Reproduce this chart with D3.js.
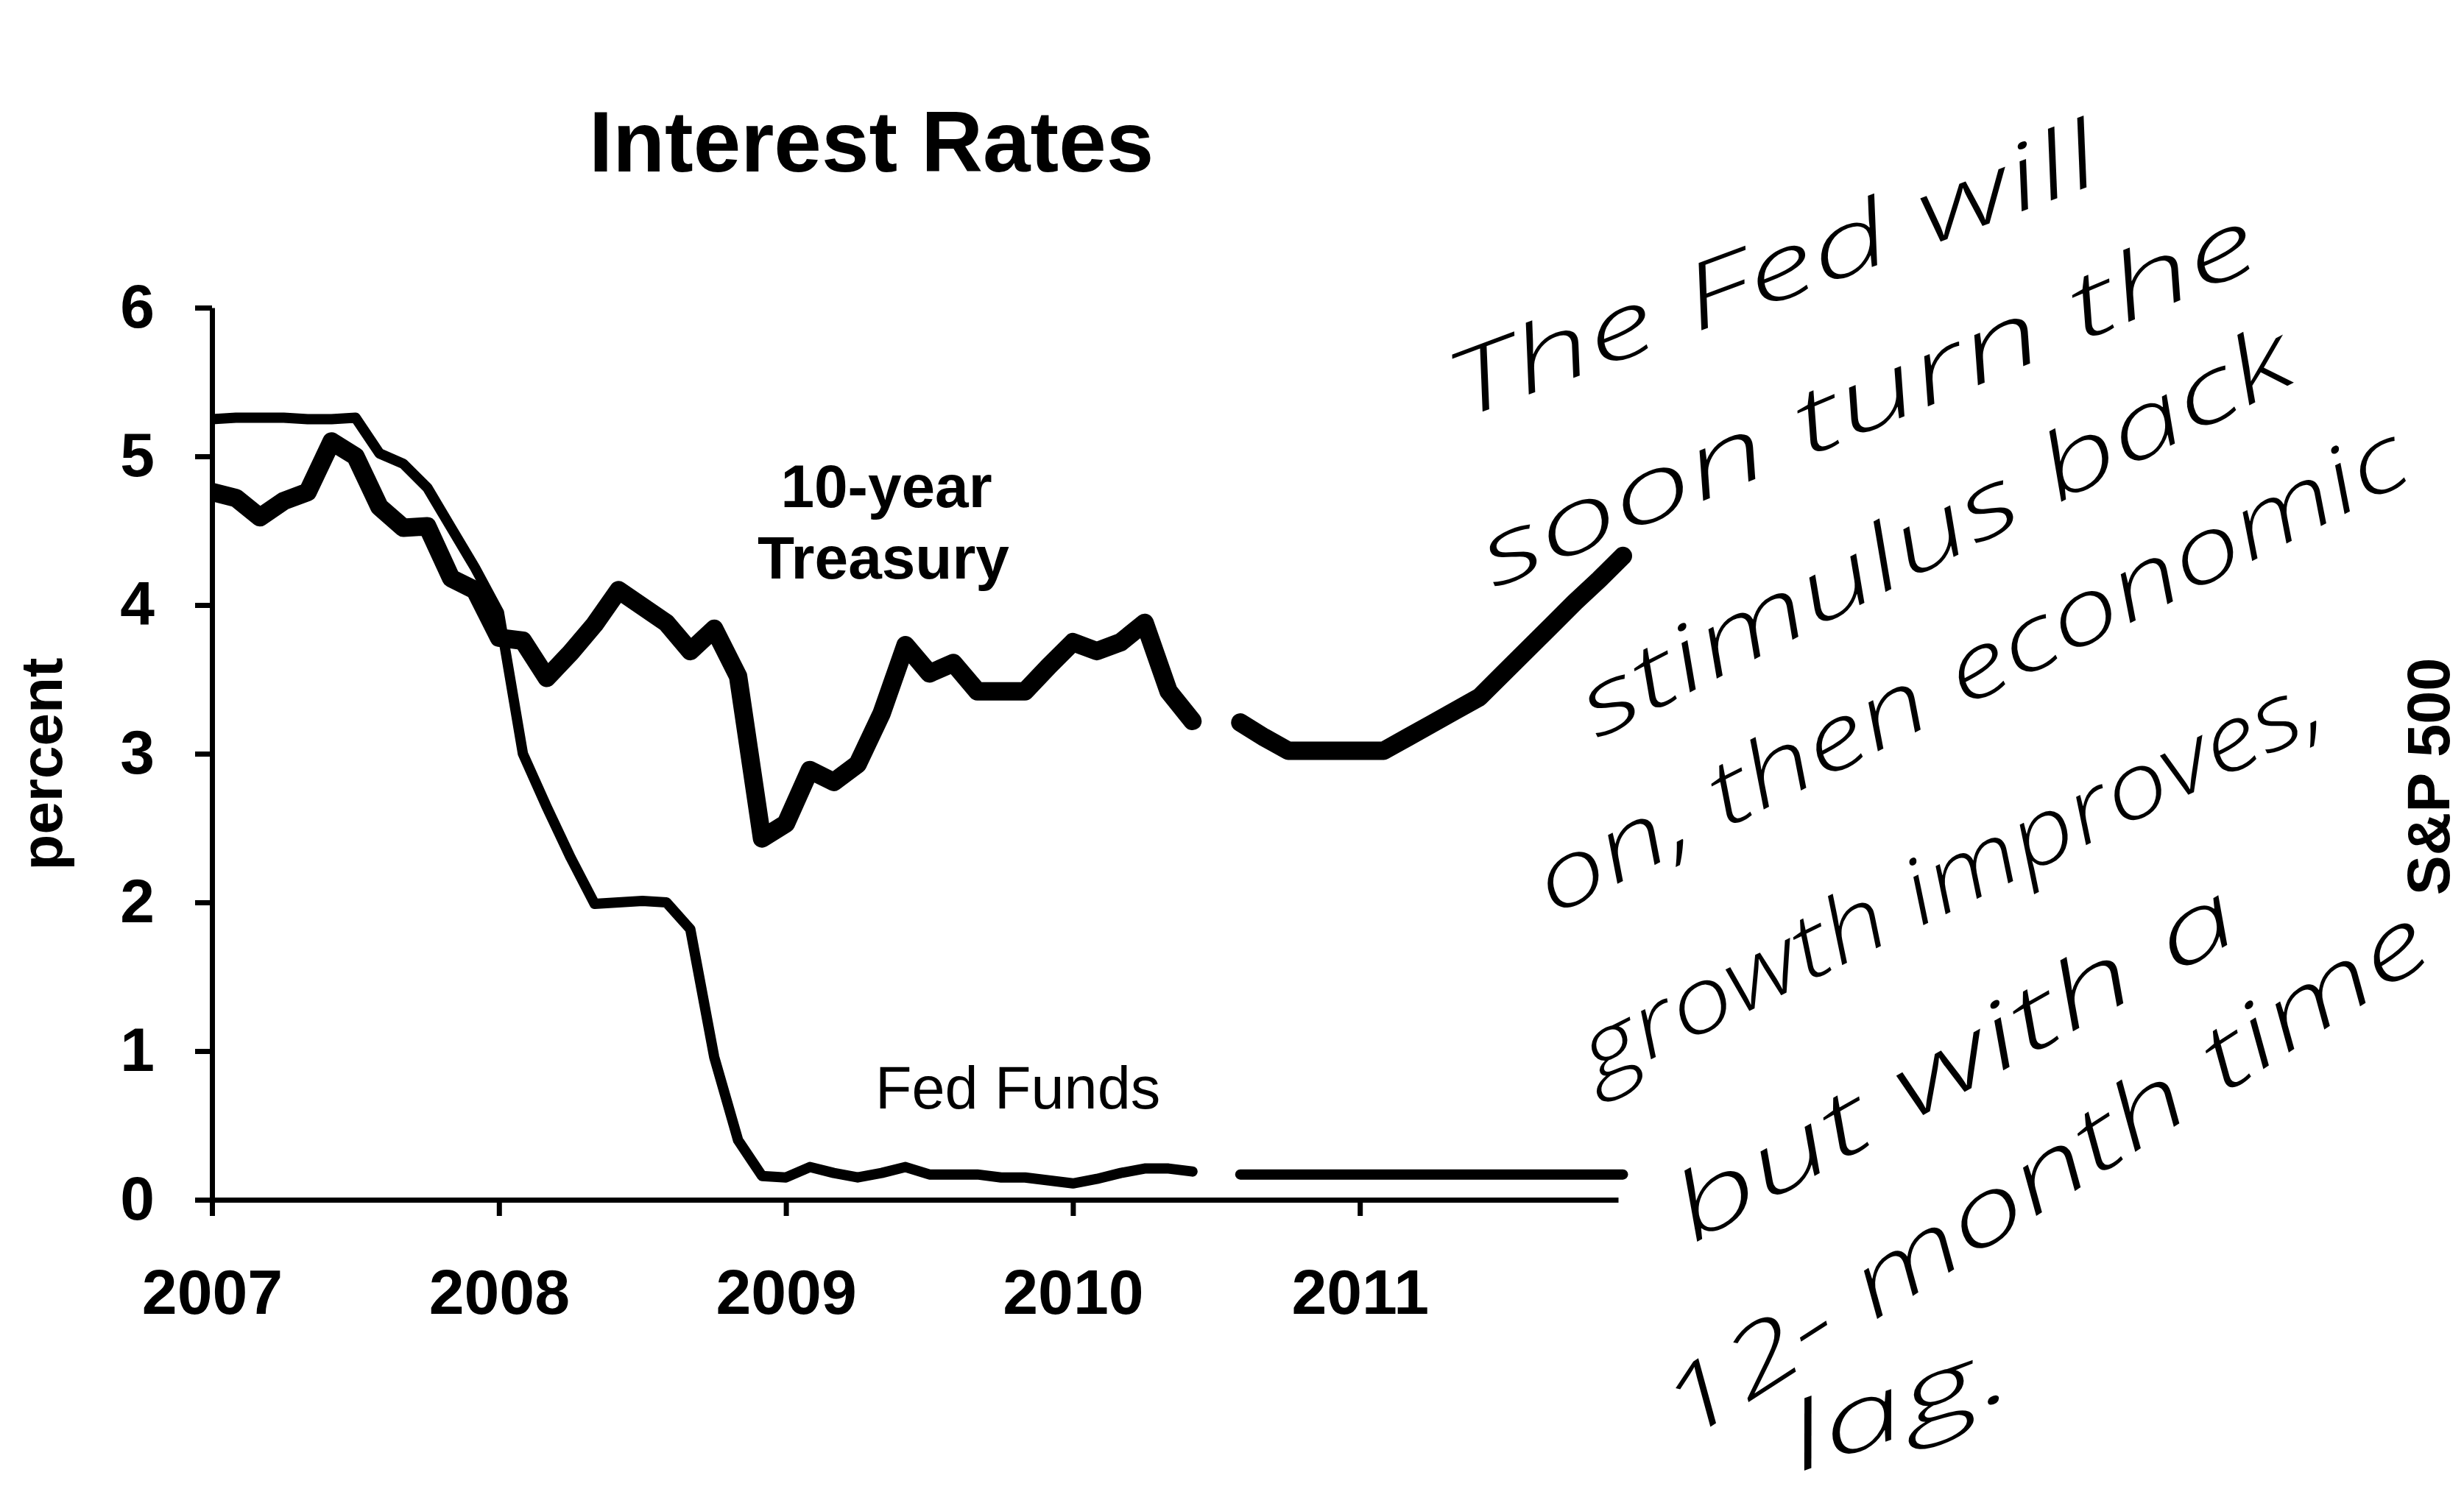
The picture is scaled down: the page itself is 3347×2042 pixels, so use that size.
<!DOCTYPE html>
<html>
<head>
<meta charset="utf-8">
<script src="https://cdn.jsdelivr.net/npm/d3@7"></script>
<style>
  html, body { margin: 0; padding: 0; background: #fff; }
  svg { display: block; }
</style>
</head>
<body>
<svg id="chart" width="3347" height="2042"></svg>
<script>
// --- Data (monthly) ---
const actualStart = 2007;            // Jan 2007
const forecastStart = 2010 + 7 / 12; // Aug 2010

// Jan 2007 .. Jun 2010
const treasuryActual = [
  4.76, 4.72, 4.59, 4.70, 4.76, 5.10, 5.00, 4.66, 4.52, 4.53, 4.18, 4.10,
  3.78, 3.76, 3.51, 3.68, 3.87, 4.10, 3.99, 3.88, 3.69, 3.84, 3.52, 2.43,
  2.53, 2.89, 2.81, 2.93, 3.27, 3.73, 3.54, 3.61, 3.42, 3.42, 3.42, 3.59,
  3.75, 3.69, 3.75, 3.88, 3.42, 3.22
];
const fedFundsActual = [
  5.25, 5.26, 5.26, 5.26, 5.25, 5.25, 5.26, 5.02, 4.95, 4.79, 4.52, 4.25,
  3.95, 3.00, 2.64, 2.30, 1.99, 2.00, 2.01, 2.00, 1.82, 0.96, 0.40, 0.16,
  0.15, 0.22, 0.18, 0.15, 0.18, 0.22, 0.17, 0.17, 0.17, 0.15, 0.15, 0.13,
  0.11, 0.14, 0.18, 0.21, 0.21, 0.19
];
// Aug 2010 .. Dec 2011
const treasuryForecast = [
  3.21, 3.11, 3.02, 3.02, 3.02, 3.02, 3.02, 3.11, 3.20, 3.29, 3.38,
  3.54, 3.70, 3.86, 4.02, 4.17, 4.33
];
const fedFundsForecast = [
  0.17, 0.17, 0.17, 0.17, 0.17, 0.17, 0.17, 0.17, 0.17, 0.17, 0.17,
  0.17, 0.17, 0.17, 0.17, 0.17, 0.17
];

const yearTicks = [2007, 2008, 2009, 2010, 2011];
const percentTicks = [0, 1, 2, 3, 4, 5, 6];

const noteLines = [
  "The Fed will",
  "soon turn the",
  "stimulus back",
  "on, then economic",
  "growth improves,",
  "but with a",
  "12- month time",
  "lag."
];

// --- Layout ---
const svg = d3.select("#chart");
const AXIS_FONT = "'Liberation Sans', Arial, Helvetica, sans-serif";

const x = d3.scaleLinear().domain([2007, 2011.9]).range([288, 2198]);
const y = d3.scaleLinear().domain([0, 6]).range([1630, 418]);

function toPoints(values, start) {
  return values.map((v, i) => ({ t: start + i / 12, v: v }));
}

svg.append("rect").attr("width", 3347).attr("height", 2042).attr("fill", "#fff");

// title
svg.append("text")
  .attr("x", 800).attr("y", 233)
  .attr("font-family", AXIS_FONT).attr("font-weight", "bold").attr("font-size", 116)
  .text("Interest Rates");

// --- Axes ---
const yAxis = svg.append("g")
  .attr("transform", `translate(${x(2007)},0)`)
  .call(d3.axisLeft(y).tickValues(percentTicks).tickFormat(d3.format("d"))
    .tickSize(23).tickSizeOuter(0).tickPadding(55));

const xAxis = svg.append("g")
  .attr("transform", `translate(0,${y(0)})`)
  .call(d3.axisBottom(x).tickValues(yearTicks).tickFormat(d3.format("d"))
    .tickSize(22).tickSizeOuter(0).tickPadding(72));

[yAxis, xAxis].forEach(g => {
  g.attr("font-family", AXIS_FONT).attr("font-weight", "bold");
  g.selectAll("path.domain").attr("stroke", "#000").attr("stroke-width", 7);
  g.selectAll(".tick line").attr("stroke", "#000").attr("stroke-width", 7);
  g.selectAll(".tick text").attr("fill", "#000");
});
yAxis.attr("font-size", 84);
xAxis.attr("font-size", 86);

svg.append("text")
  .attr("transform", `translate(84,1038) rotate(-90)`)
  .attr("text-anchor", "middle")
  .attr("font-family", AXIS_FONT).attr("font-weight", "bold").attr("font-size", 80)
  .text("percent");

// --- Lines ---
svg.append("clipPath").attr("id", "plotClip")
  .append("rect").attr("x", x(2007)).attr("y", 0).attr("width", 3347).attr("height", 2042);

const line = d3.line().x(d => x(d.t)).y(d => y(d.v));
const plot = svg.append("g").attr("clip-path", "url(#plotClip)");

const series = [
  { values: fedFundsActual, start: actualStart, width: 14 },
  { values: fedFundsForecast, start: forecastStart, width: 14 },
  { values: treasuryActual, start: actualStart, width: 25 },
  { values: treasuryForecast, start: forecastStart, width: 25 }
];

plot.selectAll("path.series")
  .data(series)
  .join("path")
  .attr("class", "series")
  .attr("d", d => line(toPoints(d.values, d.start)))
  .attr("fill", "none")
  .attr("stroke", "#000")
  .attr("stroke-width", d => d.width)
  .attr("stroke-linecap", "round")
  .attr("stroke-linejoin", "round");

// series labels
const labels = svg.append("g").attr("font-family", AXIS_FONT).attr("font-size", 82);
labels.append("text").attr("x", 1204).attr("y", 689).attr("text-anchor", "middle")
  .attr("font-weight", "bold").text("10-year");
labels.append("text").attr("x", 1200).attr("y", 786).attr("text-anchor", "middle")
  .attr("font-weight", "bold").text("Treasury");
labels.append("text").attr("x", 1189).attr("y", 1506).attr("font-size", 81)
  .text("Fed Funds");

// label clipped at the right edge (from a neighbouring chart)
svg.append("text")
  .attr("transform", `translate(3327,1055) rotate(-90)`)
  .attr("text-anchor", "middle")
  .attr("font-family", AXIS_FONT).attr("font-weight", "bold").attr("font-size", 81)
  .text("S&P 500");

// --- Handwritten note ---
const noteLayout = [
  [1985, 570, 2860, 245],
  [2030, 800, 3075, 360],
  [2170, 1005, 3125, 515],
  [2110, 1245, 3280, 650],
  [2170, 1475, 3165, 985],
  [2300, 1690, 3050, 1270],
  [2290, 1960, 3310, 1300],
  [2445, 2000, 2740, 1895]
];

const note = svg.append("g")
  .attr("font-family", "'Open Sans', 'DejaVu Sans', sans-serif")
  .attr("font-style", "italic")
  .attr("font-weight", 300)
  .attr("font-size", 122);

note.selectAll("text")
  .data(noteLines.map((s, i) => ({ s: s, p: noteLayout[i] })))
  .join("text")
  .attr("transform", d => {
    const [x1, y1, x2, y2] = d.p;
    const ang = Math.atan2(y2 - y1, x2 - x1) * 180 / Math.PI;
    return `translate(${x1},${y1}) rotate(${ang})`;
  })
  .attr("textLength", d => Math.hypot(d.p[2] - d.p[0], d.p[3] - d.p[1]))
  .attr("lengthAdjust", "spacingAndGlyphs")
  .text(d => d.s);
</script>
</body>
</html>
